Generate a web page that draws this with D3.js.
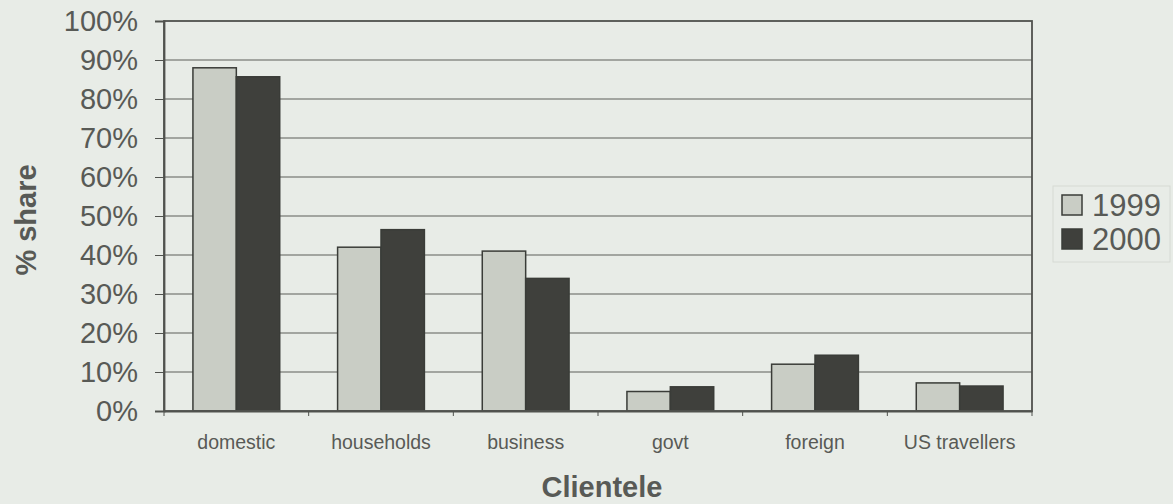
<!DOCTYPE html>
<html><head><meta charset="utf-8">
<script src="https://cdn.jsdelivr.net/npm/d3@7"></script>
<style>
html,body{margin:0;padding:0;background:#e8ece7;}
svg{display:block;font-family:"Liberation Sans",Arial,sans-serif;}
</style></head>
<body>
<svg id="chart" width="1173" height="504"></svg>
<script>
const categories = ["domestic","households","business","govt","foreign","US travellers"];
const seriesNames = ["1999","2000"];
const values1999 = [88, 42, 41, 5, 12, 7.2];
const values2000 = [85.7, 46.5, 34, 6.2, 14.3, 6.4];
const yTicks = [0,10,20,30,40,50,60,70,80,90,100];

const colors = {"1999":"#c9cdc5","2000":"#3f403c"};
const textColor = "#585a56";
const svg = d3.select("#chart");
const m = {left:164, top:21, right:1032, bottom:411};

const x = d3.scaleBand().domain(categories).range([m.left, m.right]).paddingInner(0.4).paddingOuter(0.2);
const xs = d3.scaleBand().domain(seriesNames).range([0, x.bandwidth()]);
const y = d3.scaleLinear().domain([0,100]).range([m.bottom, m.top]);

// gridlines
svg.append("g").selectAll("line").data(yTicks.filter(d=>d>0&&d<100)).join("line")
  .attr("x1", m.left).attr("x2", m.right)
  .attr("y1", d=>y(d)).attr("y2", d=>y(d))
  .attr("stroke","#5c5f5a").attr("stroke-width",1.2);

// bars
const data = [];
categories.forEach((c,i)=>{
  data.push({c, s:"1999", v:values1999[i]});
  data.push({c, s:"2000", v:values2000[i]});
});
svg.append("g").selectAll("rect").data(data).join("rect")
  .attr("x", d=>x(d.c)+xs(d.s))
  .attr("y", d=>y(d.v))
  .attr("width", xs.bandwidth())
  .attr("height", d=>y(0)-y(d.v))
  .attr("fill", d=>colors[d.s])
  .attr("stroke","#3a3c38").attr("stroke-width",1.5);

// frame
svg.append("rect").attr("x",m.left).attr("y",m.top)
  .attr("width",m.right-m.left).attr("height",m.bottom-m.top)
  .attr("fill","none").attr("stroke","#50524e").attr("stroke-width",1.8);

// y axis
const yAxis = d3.axisLeft(y).tickValues(yTicks).tickFormat(d=>d+"%").tickSize(9).tickPadding(17);
const gy = svg.append("g").attr("transform",`translate(${m.left},0)`).call(yAxis);
gy.select(".domain").attr("stroke","#50524e").attr("stroke-width",1.8);
gy.selectAll(".tick line").attr("stroke","#50524e");
gy.selectAll("text").attr("font-size",29).attr("fill",textColor).attr("font-family","Liberation Sans, Arial, sans-serif");

// x axis
const xAxis = d3.axisBottom(x).tickSize(0).tickPadding(24);
const gx = svg.append("g").attr("transform",`translate(0,${m.bottom})`).call(xAxis);
gx.select(".domain").attr("stroke","#50524e").attr("stroke-width",1.8);
gx.selectAll("text").attr("font-size",19.5).attr("fill",textColor).attr("font-family","Liberation Sans, Arial, sans-serif");
// category boundary ticks
const bounds = d3.range(categories.length+1).map(i=>m.left + i*(m.right-m.left)/categories.length);
svg.append("g").selectAll("line").data(bounds).join("line")
  .attr("x1",d=>d).attr("x2",d=>d).attr("y1",m.bottom).attr("y2",m.bottom+5)
  .attr("stroke","#50524e");

// axis titles
svg.append("text").attr("x",602).attr("y",497)
  .attr("text-anchor","middle").attr("font-size",29).attr("font-weight","bold")
  .attr("fill",textColor).text("Clientele");
svg.append("text").attr("transform",`translate(36,${220}) rotate(-90)`)
  .attr("text-anchor","middle").attr("font-size",29).attr("font-weight","bold")
  .attr("fill",textColor).text("% share");

// legend
const lg = svg.append("g");
lg.append("rect").attr("x",1053).attr("y",186).attr("width",117).attr("height",76)
  .attr("fill","none").attr("stroke","#d6dad4").attr("stroke-width",1);
seriesNames.forEach((s,i)=>{
  const yy = 205 + i*34;
  lg.append("rect").attr("x",1062).attr("y",yy-10).attr("width",20).attr("height",20)
    .attr("fill",colors[s]).attr("stroke","#3a3c38").attr("stroke-width",1.5);
  lg.append("text").attr("x",1092).attr("y",yy+11).attr("font-size",31)
    .attr("fill",textColor).text(s);
});
</script>
</body></html>
